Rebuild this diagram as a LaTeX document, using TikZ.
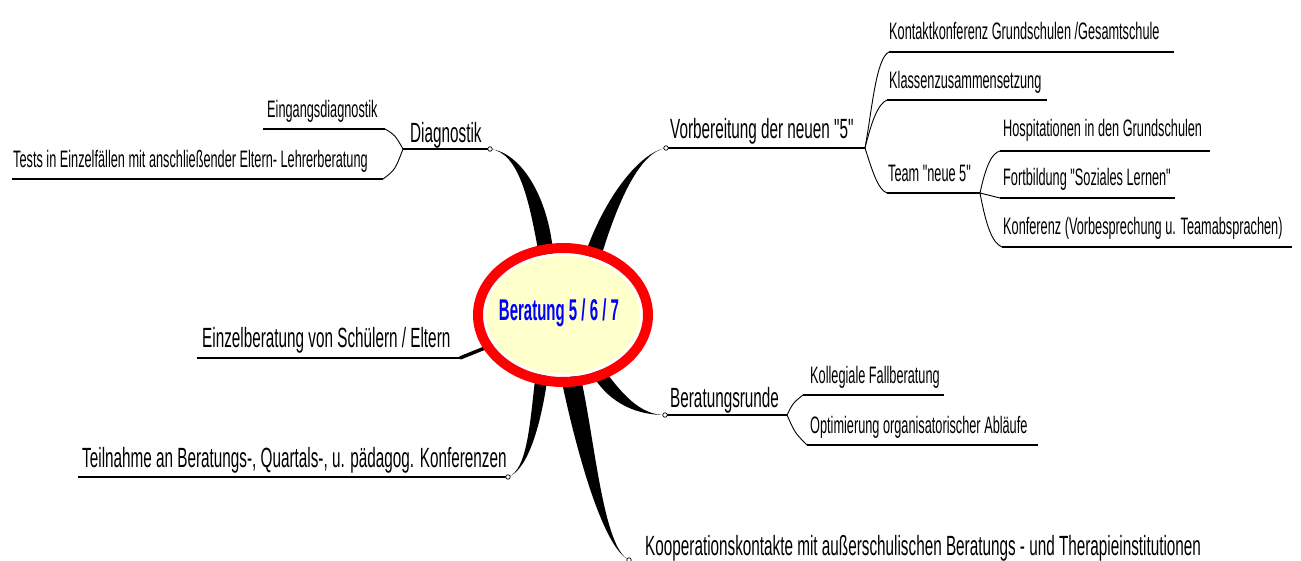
\documentclass[tikz,border=0pt]{standalone}
\usepackage{fontspec}
\setmainfont{Liberation Sans}
\newfontfamily\mapfont[FakeStretch=0.535]{Liberation Sans}
\newfontfamily\mainfont[FakeStretch=0.55]{Liberation Sans}
\newfontfamily\ctrfont[FakeStretch=0.5]{Liberation Sans}
\usetikzlibrary{shapes.geometric}
\pgfdeclarelayer{bg}
\pgfsetlayers{bg,main}
\definecolor{ctrfill}{RGB}{255,255,204}
\definecolor{ctrtext}{RGB}{0,0,255}
\newcommand{\taper}[6]{\fill (#1) .. controls #2 and #3 .. (#4) -- (#5) .. controls #6 and #2 .. (#1);}
\tikzset{
	topic/.style={anchor=base west, inner sep=0pt, font=\mapfont\fontsize{23.8}{25}\selectfont},
	maintopic/.style={anchor=base west, inner sep=0pt, font=\mainfont\fontsize{27.8}{29}\selectfont},
	uline/.style={line width=1.6pt},
	twig/.style={line width=0.9pt},
	knob/.style={draw, fill=white, line width=0.7pt, circle, inner sep=0pt, minimum size=4.5pt},
}
\begin{document}
\begin{tikzpicture}[x=1pt,y=-1pt]
		 	\useasboundingbox (0,0) rectangle (1301,561);
		 	%Center
		 	\node (ctr) [ellipse, fill=ctrfill, draw=white, line width=3pt, minimum width=157pt, minimum height=121pt, inner sep=0pt] at (563,315) {};
		 	\draw[red, line width=10pt] (ctr.center) ellipse [x radius=85pt, y radius=67pt];
		 	\node (title) at (559,313) {\ctrfont\bfseries\fontsize{30}{32}\selectfont\color{ctrtext}Beratung 5 / 6 / 7};
		 	
		 	%Diagnostik
		 	\coordinate (diagJ) at (403,149);
		 	\coordinate (diagK) at (490,149);
		 	\node[maintopic] (diag) at (410,143) {Diagnostik};
		 	\draw[uline] (diagJ) -- (diagK);
		 	\node[topic] (eing) at (267,118) {Eingangsdiagnostik};
		 	\coordinate (eingL) at (263,129);
		 	\coordinate (eingR) at (385,129);
		 	\draw[uline] (eingL) -- (eingR);
		 	\node[topic] (test) at (13,168) {Tests in Einzelfällen mit anschließender Eltern- Lehrerberatung};
		 	\coordinate (testL) at (12,179);
		 	\coordinate (testR) at (383,179);
		 	\draw[uline] (testL) -- (testR);
		 	\draw[twig] (diagJ) .. controls (395,135) .. (eingR);
		 	\draw[twig] (diagJ) .. controls (395,170) .. (testR);
		 	
		 	%Vorbereitung
		 	\coordinate (vorK) at (666,148);
		 	\coordinate (vorJ) at (865,148);
		 	\node[maintopic] (vor) at (670,139) {Vorbereitung der neuen "5"};
		 	\draw[uline] (vorK) -- (vorJ);
		 	\node[topic] (kont) at (889,40) {Kontaktkonferenz Grundschulen /Gesamtschule};
		 	\coordinate (kontL) at (889,52);
		 	\coordinate (kontR) at (1174,52);
		 	\draw[uline] (kontL) -- (kontR);
		 	\node[topic] (klas) at (889,89) {Klassenzusammensetzung};
		 	\coordinate (klasL) at (887,100);
		 	\coordinate (klasR) at (1047,100);
		 	\draw[uline] (klasL) -- (klasR);
		 	\node[topic] (team) at (888,182) {Team "neue 5"};
		 	\coordinate (teamL) at (887,193);
		 	\coordinate (teamR) at (980,193);
		 	\draw[uline] (teamL) -- (teamR);
		 	\draw[twig] (vorJ) .. controls (872,110) and (876,58) .. (kontL);
		 	\draw[twig] (vorJ) .. controls (872,120) and (878,104) .. (klasL);
		 	\draw[twig] (vorJ) .. controls (872,170) and (878,190) .. (teamL);
		 	
		 	%Team "neue 5"
		 	\node[topic] (hosp) at (1003,137) {Hospitationen in den Grundschulen};
		 	\coordinate (hospL) at (1000,151);
		 	\coordinate (hospR) at (1210,151);
		 	\draw[uline] (hospL) -- (hospR);
		 	\node[topic] (fort) at (1003,186) {Fortbildung "Soziales Lernen"};
		 	\coordinate (fortL) at (1000,198);
		 	\coordinate (fortR) at (1175,198);
		 	\draw[uline] (fortL) -- (fortR);
		 	\node[topic] (konf) at (1003,235) {Konferenz (Vorbesprechung u. Teamabsprachen)};
		 	\coordinate (konfL) at (1002,247);
		 	\coordinate (konfR) at (1292,247);
		 	\draw[uline] (konfL) -- (konfR);
		 	\draw[twig] (teamR) .. controls (986,165) and (992,153) .. (hospL);
		 	\draw[twig] (teamR) -- (fortL);
		 	\draw[twig] (teamR) .. controls (986,225) and (992,243) .. (konfL);
		 	
		 	%Einzelberatung
		 	\node[maintopic] (einz) at (202,348) {Einzelberatung von Schülern / Eltern};
		 	\coordinate (einzL) at (197,358);
		 	\coordinate (einzR) at (460,358);
		 	\draw[uline] (einzL) -- (einzR);
		 	
		 	%Teilnahme
		 	\node[maintopic] (teil) at (82,467) {Teilnahme an Beratungs-, Quartals-, u. pädagog. Konferenzen};
		 	\coordinate (teilL) at (78,477);
		 	\coordinate (teilK) at (508,477);
		 	\draw[uline] (teilL) -- (teilK);
		 	
		 	%Beratungsrunde
		 	\coordinate (berK) at (665,415);
		 	\coordinate (berJ) at (787,415);
		 	\node[maintopic] (ber) at (670,407) {Beratungsrunde};
		 	\draw[uline] (berK) -- (berJ);
		 	\node[topic] (koll) at (810,383) {Kollegiale Fallberatung};
		 	\coordinate (kollL) at (803,395);
		 	\coordinate (kollR) at (944,395);
		 	\draw[uline] (kollL) -- (kollR);
		 	\node[topic] (opt) at (810,433) {Optimierung organisatorischer Abläufe};
		 	\coordinate (optL) at (807,445);
		 	\coordinate (optR) at (1038,445);
		 	\draw[uline] (optL) -- (optR);
		 	\draw[twig] (berJ) .. controls (793,403) .. (kollL);
		 	\draw[twig] (berJ) .. controls (795,433) .. (optL);
		 	
		 	%Kooperationskontakte
		 	\coordinate (koopK) at (629,560);
		 	\node[maintopic] (koop) at (645,555) {Kooperationskontakte mit außerschulischen Beratungs - und Therapieinstitutionen};
		 	
		 	%Thick branches behind the center
		 	\begin{pgfonlayer}{bg}
		 	\taper{diagK}{(520,152)}{(530,205)}{ctr.112}{ctr.99}{(548,195)}
		 	\taper{vorK}{(640,152)}{(604,198)}{ctr.70}{ctr.56}{(618,200)}
		 	\taper{teilK}{(528,470)}{(530,420)}{ctr.245}{ctr.256}{(541,425)}
		 	\taper{koopK}{(603,548)}{(576,450)}{ctr.268}{ctr.286}{(595,440)}
		 	\taper{berK}{(640,415)}{(610,406)}{ctr.296}{ctr.307}{(622,394)}
		 	\draw[line width=3.5pt] (einzR) -- (ctr.203);
		 	\end{pgfonlayer}
		 	
		 	%Knobs
		 	\node[knob] (diagKnob) at (diagK) {};
		 	\node[knob] (vorKnob) at (vorK) {};
		 	\node[knob] (teilKnob) at (teilK) {};
		 	\node[knob] (berKnob) at (berK) {};
		 	\node[knob] (koopKnob) at (koopK) {};
\end{tikzpicture}
\end{document}
